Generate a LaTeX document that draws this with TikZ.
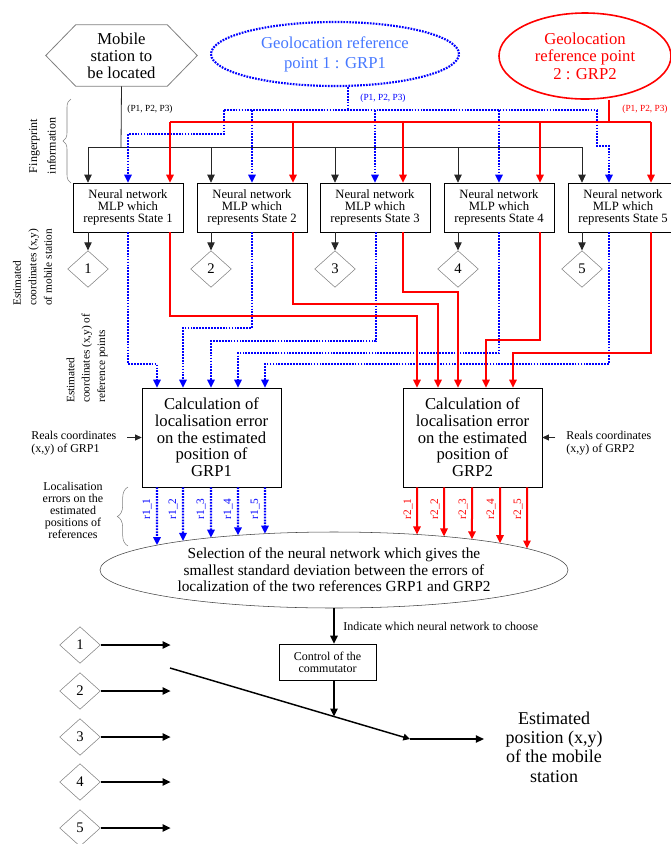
\documentclass[tikz,border=0pt]{standalone}
\usepackage{fontspec}
\setmainfont{Liberation Serif}
\usetikzlibrary{positioning,arrows.meta,shapes.geometric,decorations.pathreplacing,calc,intersections}

\definecolor{grpblue}{RGB}{70,120,255}

\begin{document}
\begin{tikzpicture}[
    x=0.75pt,y=-0.75pt,
    mlp/.style={draw,rectangle,minimum width=82.5pt,minimum height=36.75pt,inner sep=0pt,align=center,font=\fontsize{9.5}{9}\selectfont},
    calcbox/.style={draw,rectangle,minimum width=104.25pt,minimum height=74.25pt,inner sep=0pt,align=center,font=\fontsize{12.5}{12.5}\selectfont},
    estim/.style={diamond,draw=gray,inner sep=0pt,minimum width=30.5pt,minimum height=27.5pt,font=\fontsize{11}{11}\selectfont},
    sidenote/.style={rotate=90,align=left,inner sep=0pt,font=\fontsize{8.5}{11.6}\selectfont},
    arr/.style={-{Triangle[length=6pt,width=5.5pt]}},
    fprint/.style={semithick,black!85},
    grpone/.style={blue,line width=1.6pt,dash pattern=on 1.3pt off 0.9pt},
    grptwo/.style={red,line width=1.5pt},
    bold/.style={line width=1.1pt}
    ]

    \useasboundingbox (0,0) rectangle (671,844);
    \clip (0,0) rectangle (671,844);

    % sources
    \node (mobile) [minimum width=113.25pt,minimum height=45.75pt,inner sep=0pt,align=center,font=\fontsize{12.5}{12.75}\selectfont] at (121.5,55.5) {Mobile\\station to\\be located};
    \draw[gray,semithick] (mobile.west) -- ($(mobile.north west)+(30,0)$) -- ($(mobile.north east)+(-30,0)$)
      -- (mobile.east) -- ($(mobile.south east)+(-30,0)$) -- ($(mobile.south west)+(30,0)$) -- cycle;

    \node (grp1) [ellipse,draw=blue,line width=1.6pt,dash pattern=on 1.3pt off 0.9pt,text=grpblue,minimum width=186pt,minimum height=48pt,inner sep=0pt,align=center,font=\fontsize{12.5}{15}\selectfont] at (335,54) {Geolocation reference\\point 1 : GRP1};
    \node (grp2) [ellipse,draw=red,line width=1.2pt,text=red,minimum width=129pt,minimum height=64.5pt,inner sep=0pt,align=center,font=\fontsize{12.5}{13}\selectfont] at (585,56) {Geolocation\\reference point\\2 : GRP2};

    \node [font=\fontsize{7}{7}\selectfont] at (150,109) {(P1, P2, P3)};
    \node [font=\fontsize{7}{7}\selectfont,text=blue] at (383,98) {(P1, P2, P3)};
    \node [font=\fontsize{7}{7}\selectfont,text=red] at (645,109) {(P1, P2, P3)};

    % neural networks and their estimates
    \foreach \i/\x in {1/128,2/252,3/375,4/499,5/623}
      \node (net\i) [mlp] at (\x,207.5) {Neural network\\MLP which\\represents State \i};

    \foreach \i/\x in {1/88,2/211,3/335,4/458,5/582}
      \node (est\i) [estim] at (\x,269) {\i};

    % fingerprint information
    \coordinate (fpbus) at (121,147);
    \draw[fprint] (mobile.south) -- (fpbus);
    \draw[fprint] (est1 |- fpbus) -- (est5 |- fpbus);
    \foreach \i in {1,...,5}
      {\draw[fprint,arr] (est\i |- fpbus) -- (est\i |- net\i.north);
        \draw[fprint,arr] (est\i |- net\i.south) -- (est\i.north);
      }

    \draw[grpone] ($(grp1.south)+(13,0)$) -- (348,110);
    \draw[grpone] (224,110) -- (597,110);
    \draw[grpone,arr] (224,110) -- (224,134) -- (net1.north |- 0,134) -- (net1.north);
    \foreach \i in {2,3,4}
      \draw[grpone,arr] (net\i.north |- 0,110) -- (net\i.north);
    \draw[grpone,arr] (597,110) -- (597,146) -- (609,146) -- (609,0 |- net5.north);

    \draw[grptwo] (grp2.south -| 609,0) -- (609,122);
    \draw[grptwo] (170,122) -- (651,122);
    \foreach \x/\i in {170/1,293/2,403/3,540/4,651/5}
      \draw[grptwo,arr] (\x,122) -- (\x,0 |- net\i.north);

    % error calculation
    \node (calc1) [calcbox] at (211.5,437.5) {Calculation of\\localisation error\\on the estimated\\position of\\GRP1};
    \node (calc2) [calcbox] at (472.5,437.5) {Calculation of\\localisation error\\on the estimated\\position of\\GRP2};

    \foreach \i/\x/\y/\t in {1/128/364/157,2/252/328/183,3/376/341/211,4/499/353/238,5/609/364/265}
      \draw[grpone,arr] (\x,0 |- net\i.south) -- (\x,\y) -- (\t,\y) -- (\t,0 |- calc1.north);
    \foreach \i/\x/\y/\t in {1/170/316/417,2/293/304/438,3/403/292/458,4/540/340/486,5/651/353/513}
      \draw[grptwo,arr] (\x,0 |- net\i.south) -- (\x,\y) -- (\t,\y) -- (\t,0 |- calc2.north);

    \node (real1) [anchor=west,align=left,inner sep=0pt,font=\fontsize{9}{9.75}\selectfont] at (31,443.5) {Reals coordinates\\(x,y) of GRP1};
    \node (real2) [anchor=west,align=left,inner sep=0pt,font=\fontsize{9}{9.75}\selectfont] at (566,443.5) {Reals coordinates\\(x,y) of GRP2};
    \draw[fprint,-{Triangle[length=5pt,width=4.5pt]},shorten <=8pt] (real1.east |- calc1.west) -- (calc1.west);
    \draw[fprint,-{Triangle[length=5pt,width=4.5pt]},shorten <=8pt] (real2.west |- calc2.east) -- (calc2.east);

    % selection
    \node (sel) [ellipse,draw=black!75,minimum width=351pt,minimum height=57pt,inner sep=0pt,align=center,font=\fontsize{11.5}{12.4}\selectfont] at (334,570)
      {Selection of the neural network which gives the\\smallest standard deviation between the errors of\\localization of the two references GRP1 and GRP2};
    \path[name path=selb] (sel.center) ellipse [x radius=175.5pt,y radius=28.5pt];

    \foreach \x/\i in {157/1,183/2,211/3,238/4,265/5}
      {\path[name path=drop] (\x,0 |- calc1.south) -- (\x,565);
        \draw[grpone,arr,name intersections={of=drop and selb,by=hit}] (\x,0 |- calc1.south) -- (hit);
        \node (r1\i) [rotate=90,text=blue,font=\fontsize{8.5}{8.5}\selectfont] at (\x-10,509) {r1\_\i};
      }
    \foreach \x/\i in {417/1,444/2,472/3,500/4,527/5}
      {\path[name path=drop] (\x,0 |- calc2.south) -- (\x,565);
        \draw[grptwo,arr,name intersections={of=drop and selb,by=hit}] (\x,0 |- calc2.south) -- (hit);
        \node (r2\i) [rotate=90,text=red,font=\fontsize{8.5}{8.5}\selectfont] at (\x-9,509) {r2\_\i};
      }

    % left labels
    \node (fpinfo) [rotate=90,align=center,inner sep=0pt,font=\fontsize{9}{14}\selectfont] at (42.5,146) {Fingerprint\\information};
    \draw[gray,decorate,decoration={brace,amplitude=6pt}] (71,183) -- (71,99);
    \node (estmob) [sidenote,anchor=west] at (32.5,306) {Estimated\\coordinates (x,y)\\of mobile station};
    \node (estref) [sidenote,anchor=west] at (87,403) {Estimated\\coordinates (x,y) of\\reference points};
    \node (errinfo) [align=center,inner sep=0pt,font=\fontsize{9}{9}\selectfont] at (73,510) {Localisation\\errors on the\\estimated\\positions of\\references};
    \draw[gray,decorate,decoration={brace,amplitude=8pt}] (128,546) -- (128,487);

    % commutator
    \node (ctrl) [draw,minimum width=72.75pt,minimum height=27pt,inner sep=0pt,align=center,font=\fontsize{9}{9}\selectfont] at (327.5,662) {Control of the\\commutator};
    \draw[bold,arr] (sel.south) -- (sel.south |- ctrl.north);
    \node (hint) [anchor=west,inner sep=0pt,font=\fontsize{9}{9}\selectfont] at (343,626) {Indicate which neural network to choose};

    \foreach \i/\y in {1/645,2/691,3/737,4/782,5/828}
      {\node (in\i) [estim] at (80,\y) {\i};
        \draw[bold,arr] (in\i.east) -- ++(70,0);
      }

    \coordinate (sw1) at (170,668);
    \coordinate (sw2) at (410,739);
    \draw[bold,-{Triangle[length=5pt,width=5pt]}] (sw1) -- (sw2);
    \path[name path=swl] (sw1) -- (sw2);
    \path[name path=down] (sel.south |- ctrl.south) -- ++(0,80);
    \draw[bold,arr,name intersections={of=down and swl,by=pick}] (sel.south |- ctrl.south) -- (pick);

    \node (out) [align=center,inner xsep=16pt,font=\fontsize{13.5}{14.5}\selectfont] at (554,747) {Estimated\\position (x,y)\\of the mobile\\station};
    \draw[bold,arr] (sw2) -- (out.west |- sw2);

  \end{tikzpicture}
\end{document}
